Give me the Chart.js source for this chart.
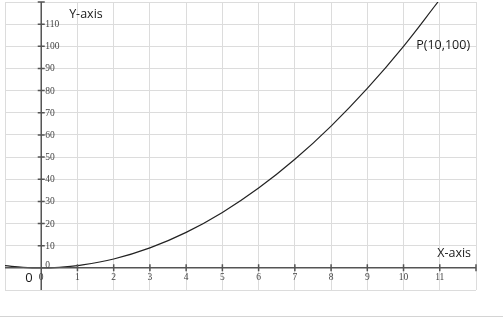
<!DOCTYPE html>
<html>
<head>
<meta charset="utf-8">
<script src="https://cdn.jsdelivr.net/npm/chart.js@4.4.0/dist/chart.umd.min.js"></script>
<style>
  html, body { margin: 0; padding: 0; background: #ffffff; }
  #wrap { width: 503px; height: 318px; }
</style>
</head>
<body>
<div id="wrap"><canvas id="parabola"></canvas></div>
<script>
// values (y = x^2 curve)
const curveX = [-1, -0.5, 0, 0.5, 1, 2, 3, 4, 5, 6, 7, 8, 9, 10, 10.95];
const curveY = [1, 0.25, 0, 0.25, 1, 4, 9, 16, 25, 36, 49, 64, 81, 100, 120];

// tick labels drawn on the axes
const xTickLabels = ['0', '1', '2', '3', '4', '5', '6', '7', '8', '9', '10', '11'];
const yTickLabels = ['0', '10', '20', '30', '40', '50', '60', '70', '80', '90', '100', '110'];

// axis ranges
const xRange = [-1, 12];
const yRange = [-10, 120];

//Plugin that draws the crossing axes, ticks and text labels
const axesPlugin = {
  id: 'axesPlugin',
  afterDatasetsDraw(chart) {
    const ctx = chart.ctx;
    const xs = chart.scales.x;
    const ys = chart.scales.y;
    const area = chart.chartArea;
    const ox = xs.getPixelForValue(0);
    const oy = ys.getPixelForValue(0);

    ctx.save();
    ctx.strokeStyle = '#555555';
    ctx.lineWidth = 1.5;

    //main axes
    ctx.beginPath();
    ctx.moveTo(area.left, oy);
    ctx.lineTo(area.right, oy);
    ctx.moveTo(ox, area.top);
    ctx.lineTo(ox, area.bottom);
    ctx.stroke();

    //tick marks on x axis
    ctx.beginPath();
    for (let v = 1; v <= xRange[1]; v++) {
      const px = xs.getPixelForValue(v);
      ctx.moveTo(px, oy - 3.5);
      ctx.lineTo(px, oy + 3.5);
    }
    //tick marks on y axis
    for (let v = 10; v <= yRange[1]; v += 10) {
      const py = ys.getPixelForValue(v);
      ctx.moveTo(ox - 3.5, py);
      ctx.lineTo(ox + 3.5, py);
    }
    ctx.stroke();

    //tick labels
    ctx.fillStyle = '#444444';
    ctx.font = '9.5px "Liberation Serif", serif';
    ctx.textAlign = 'center';
    ctx.textBaseline = 'middle';
    xTickLabels.forEach((lbl) => {
      ctx.fillText(lbl, xs.getPixelForValue(Number(lbl)), oy + 10);
    });
    ctx.textAlign = 'left';
    yTickLabels.forEach((lbl) => {
      const py = ys.getPixelForValue(Number(lbl));
      ctx.fillText(lbl, ox + 4, Number(lbl) === 0 ? py - 2 : py + 0.5);
    });

    //axis titles and point label
    ctx.fillStyle = '#1a1a1a';
    ctx.font = '12.5px "Open Sans", sans-serif';
    ctx.textAlign = 'left';
    ctx.fillText('Y-axis', xs.getPixelForValue(0.77), ys.getPixelForValue(114.5));
    ctx.fillText('X-axis', xs.getPixelForValue(10.93), ys.getPixelForValue(6.5));
    ctx.fillText('P(10,100)', xs.getPixelForValue(10.35), ys.getPixelForValue(100.5));
    ctx.font = '13px "Open Sans", sans-serif';
    ctx.textAlign = 'center';
    ctx.fillText('0', xs.getPixelForValue(-0.34), ys.getPixelForValue(-4.7));

    //faint separator under the plot
    ctx.strokeStyle = '#d4d4d4';
    ctx.lineWidth = 1;
    ctx.beginPath();
    ctx.moveTo(0, 316.5);
    ctx.lineTo(chart.width, 316.5);
    ctx.stroke();
    ctx.restore();
  }
};

document.addEventListener('DOMContentLoaded', function () {
  const ctx = document.getElementById('parabola').getContext('2d');
  new Chart(ctx, {
    type: 'scatter',
    data: {
      datasets: [{
        label: 'y = x²',
        data: curveX.map((x, i) => ({ x: x, y: curveY[i] })),
        showLine: true,
        borderColor: '#222222',
        borderWidth: 1.2,
        pointRadius: 0,
        tension: 0.4,
        fill: false
      }]
    },
    options: {
      responsive: true,
      maintainAspectRatio: false,
      animation: false,
      layout: {
        padding: { left: 5, right: 27, top: 2, bottom: 28 }
      },
      plugins: {
        legend: { display: false },
        tooltip: { enabled: false }
      },
      scales: {
        x: {
          type: 'linear',
          min: xRange[0],
          max: xRange[1],
          ticks: { display: false, stepSize: 1 },
          grid: { color: '#dcdcdc', lineWidth: 1, drawTicks: false },
          border: { display: false }
        },
        y: {
          type: 'linear',
          min: yRange[0],
          max: yRange[1],
          ticks: { display: false, stepSize: 10 },
          grid: { color: '#dcdcdc', lineWidth: 1, drawTicks: false },
          border: { display: false }
        }
      }
    },
    plugins: [axesPlugin]
  });
});
</script>
</body>
</html>
